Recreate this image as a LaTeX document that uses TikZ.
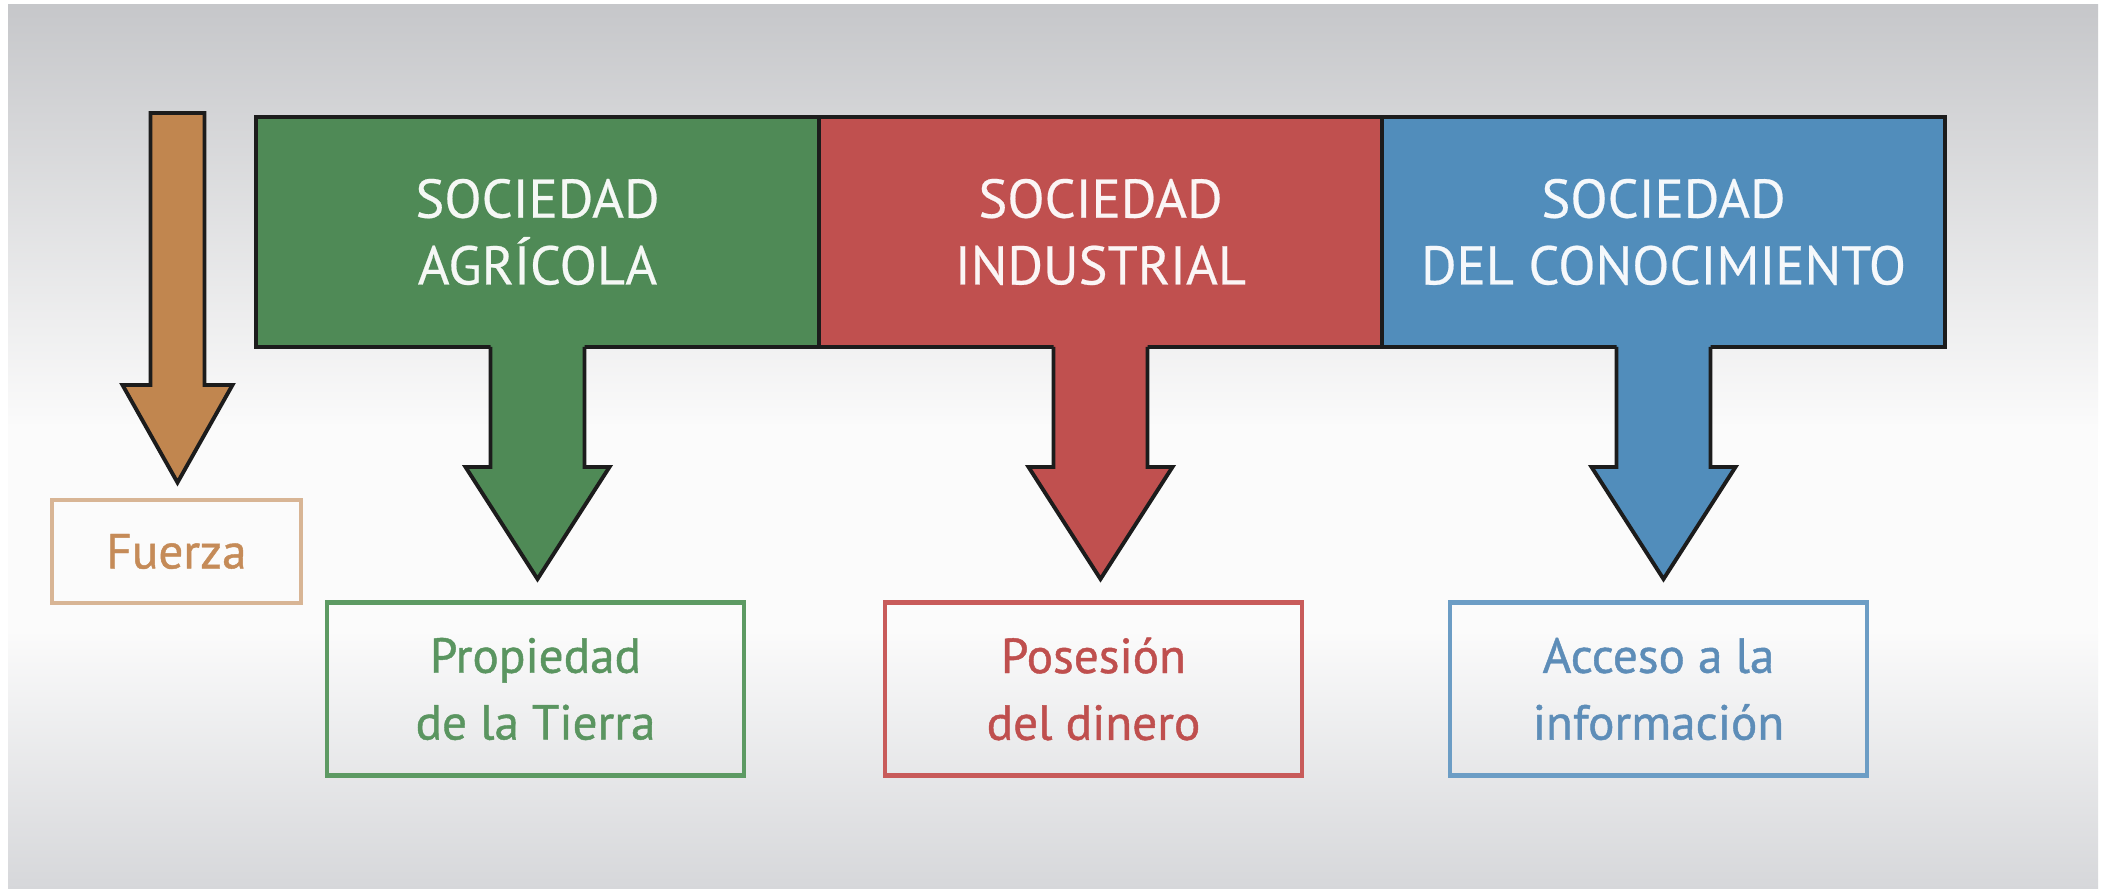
\documentclass[tikz,border=0pt]{standalone}
\usepackage{fontspec}
\setmainfont{PT Sans}
\newfontfamily\kastenfont[FakeBold=0.4]{PT Sans}
\newfontfamily\zielfont[FakeBold=0.9]{PT Sans}
\usetikzlibrary{calc}

\definecolor{agrgreen}{HTML}{4F8A56}
\definecolor{indred}{HTML}{C0504F}
\definecolor{conblue}{HTML}{518DBB}
\definecolor{fuerzabraun}{HTML}{C1864F}
\definecolor{agrrand}{HTML}{5D9A63}
\definecolor{agrtext}{HTML}{5A9560}
\definecolor{indrand}{HTML}{C85B5A}
\definecolor{indtext}{HTML}{BF4F4E}
\definecolor{conrand}{HTML}{6C9DC5}
\definecolor{context}{HTML}{5D8DB8}
\definecolor{fuerzarand}{HTML}{D8B595}
\definecolor{fuerzatext}{HTML}{C58B58}
\definecolor{hgoben}{HTML}{C6C7CA}
\definecolor{hgunten}{HTML}{D6D7DA}
\definecolor{rand}{HTML}{1C1C1C}

\begin{document}
\begin{tikzpicture}[>=stealth,
    kasten/.style={rectangle, draw=rand, line width=1.1pt, fill=#1, text=white!94!#1,
        minimum width=5.63cm, minimum height=2.30cm, inner sep=0pt, outer sep=0pt,
        align=center, font=\kastenfont\fontsize{15.5}{19}\selectfont},
    ziel/.style={rectangle, draw=#1, line width=1.4pt, minimum width=4.17cm,
        minimum height=1.73cm, inner sep=0pt, align=center,
        font=\zielfont\fontsize{14}{19}\selectfont},
    pfeil/.style={draw=rand, line width=1.1pt}]
    \useasboundingbox (0,0) rectangle (21.09,8.89);

    % Hintergrund
    \fill[white] (0,0) rectangle (21.09,8.89);
    \shade[top color=hgoben, bottom color=white!97!gray] (0.08,4.6) rectangle (20.98,8.84);
    \fill[white!97!gray] (0.08,2.6) rectangle (20.98,4.6);
    \shade[top color=white!97!gray, bottom color=hgunten] (0.08,0) rectangle (20.98,2.6);

    % Gesellschaften
    \node[kasten=agrgreen] (agr) at (5.375,6.57) {SOCIEDAD\\AGRÍCOLA};
    \node[kasten=indred] (ind) at (11.005,6.57) {SOCIEDAD\\INDUSTRIAL};
    \node[kasten=conblue] (con) at (16.635,6.57) {SOCIEDAD\\DEL CONOCIMIENTO};

    % Grundlagen
    \node[ziel=fuerzarand, text=fuerzatext, minimum width=2.49cm, minimum height=1.03cm] (fuerza) at (1.765,3.375) {Fuerza};
    \node[ziel=agrrand, text=agrtext] (prop) at (5.355,2.00) {Propiedad\\de la Tierra};
    \node[ziel=indrand, text=indtext] (din) at (10.935,2.00) {Posesión\\del dinero};
    \node[ziel=conrand, text=context] (inf) at (16.585,2.00) {Acceso a la\\información};

    % Pfeil Fuerza
    \coordinate (fstart) at (1.775,7.76);
    \filldraw[pfeil, fill=fuerzabraun] ($(fstart)+(-0.27,0)$) -- ($(fstart)+(-0.27,-2.72)$) -- ($(fstart)+(-0.55,-2.72)$)
        -- ($(fstart |- fuerza.north)+(0,0.15)$) -- ($(fstart)+(0.55,-2.72)$) -- ($(fstart)+(0.27,-2.72)$) -- ($(fstart)+(0.27,0)$) -- cycle;

    % Pfeil agrícola
    \fill[agrgreen] ($(agr.south)+(-0.47,0.05)$) -- ($(agr.south)+(-0.47,-1.2)$) -- ($(agr.south)+(-0.72,-1.2)$)
        -- ($(agr.south |- prop.north)+(0,0.21)$) -- ($(agr.south)+(0.72,-1.2)$) -- ($(agr.south)+(0.47,-1.2)$) -- ($(agr.south)+(0.47,0.05)$) -- cycle;
    \draw[pfeil] ($(agr.south)+(-0.47,0)$) -- ($(agr.south)+(-0.47,-1.2)$) -- ($(agr.south)+(-0.72,-1.2)$)
        -- ($(agr.south |- prop.north)+(0,0.21)$) -- ($(agr.south)+(0.72,-1.2)$) -- ($(agr.south)+(0.47,-1.2)$) -- ($(agr.south)+(0.47,0)$);

    % Pfeil industrial
    \fill[indred] ($(ind.south)+(-0.47,0.05)$) -- ($(ind.south)+(-0.47,-1.2)$) -- ($(ind.south)+(-0.72,-1.2)$)
        -- ($(ind.south |- din.north)+(0,0.21)$) -- ($(ind.south)+(0.72,-1.2)$) -- ($(ind.south)+(0.47,-1.2)$) -- ($(ind.south)+(0.47,0.05)$) -- cycle;
    \draw[pfeil] ($(ind.south)+(-0.47,0)$) -- ($(ind.south)+(-0.47,-1.2)$) -- ($(ind.south)+(-0.72,-1.2)$)
        -- ($(ind.south |- din.north)+(0,0.21)$) -- ($(ind.south)+(0.72,-1.2)$) -- ($(ind.south)+(0.47,-1.2)$) -- ($(ind.south)+(0.47,0)$);

    % Pfeil conocimiento
    \fill[conblue] ($(con.south)+(-0.47,0.05)$) -- ($(con.south)+(-0.47,-1.2)$) -- ($(con.south)+(-0.72,-1.2)$)
        -- ($(con.south |- inf.north)+(0,0.21)$) -- ($(con.south)+(0.72,-1.2)$) -- ($(con.south)+(0.47,-1.2)$) -- ($(con.south)+(0.47,0.05)$) -- cycle;
    \draw[pfeil] ($(con.south)+(-0.47,0)$) -- ($(con.south)+(-0.47,-1.2)$) -- ($(con.south)+(-0.72,-1.2)$)
        -- ($(con.south |- inf.north)+(0,0.21)$) -- ($(con.south)+(0.72,-1.2)$) -- ($(con.south)+(0.47,-1.2)$) -- ($(con.south)+(0.47,0)$);
\end{tikzpicture}
\end{document}
